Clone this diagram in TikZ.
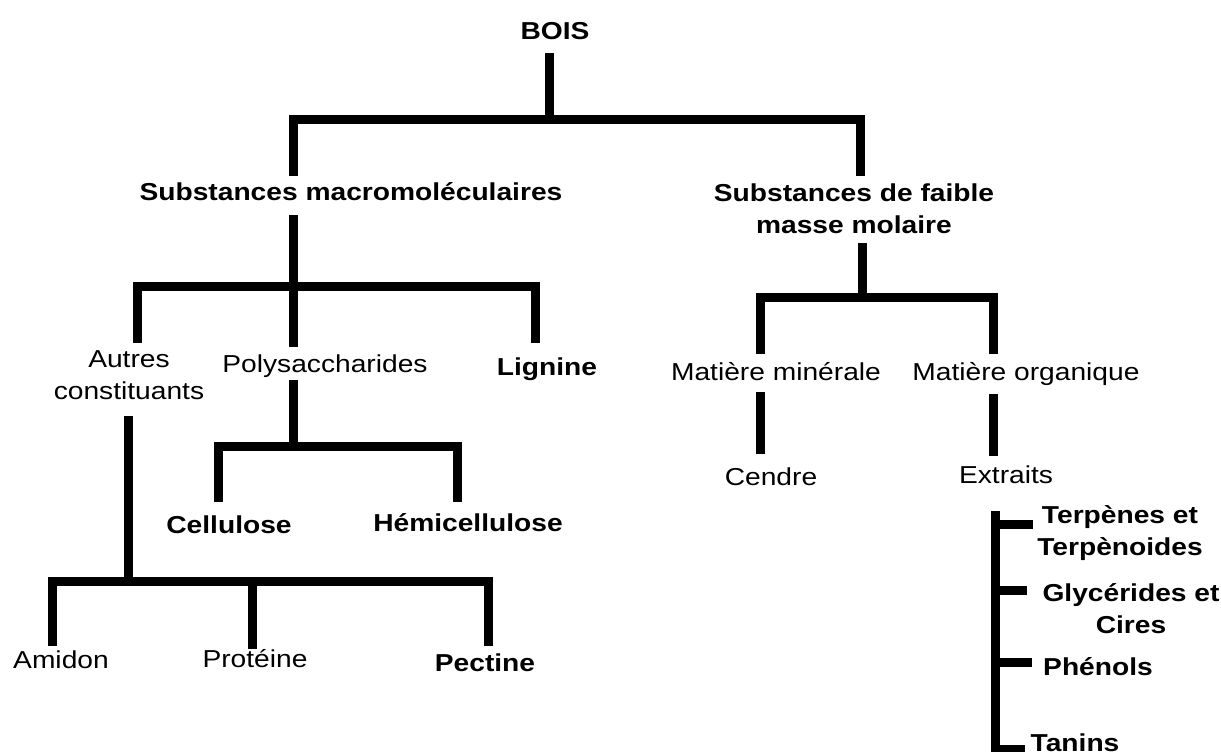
\documentclass[tikz,border=0pt]{standalone}
\usepackage{fontspec}
\setmainfont{Liberation Sans}[FakeStretch=1.15]
\newcommand\lblfont{\fontsize{24.5}{32}\selectfont}

\begin{document}
\begin{tikzpicture}[
  x=1pt, y=-1pt,
  lbl/.style={inner sep=0pt, font=\lblfont},
  one/.style={lbl, anchor=base, text height=18pt, text depth=5pt},
  many/.style={lbl, anchor=north, align=center},
  bf/.style={font=\lblfont\bfseries},
  br/.style={line width=9pt, line join=miter}
]
\useasboundingbox (0,0) rectangle (1221,752);

\node[one, bf] (bois) at (555,40) {BOIS};
\node[one, bf] (smac) at (351,200) {Substances macromoléculaires};
\node[many, bf] (sfai) at (854,184) {Substances de faible\\masse molaire};
\node[many] (autr) at (129,350) {Autres\\constituants};
\node[one] (poly) at (325,372) {Polysaccharides};
\node[one, bf] (lign) at (547,375) {Lignine};
\node[one] (mmin) at (776,380) {Matière minérale};
\node[one] (morg) at (1026,380) {Matière organique};
\node[one] (cend) at (771,485) {Cendre};
\node[one] (extr) at (1006,483) {Extraits};
\node[one, bf] (cell) at (229,533) {Cellulose};
\node[one, bf] (hemi) at (468,531) {Hémicellulose};
\node[one] (amid) at (61,668) {Amidon};
\node[one] (prot) at (255,667) {Protéine};
\node[one, bf] (pect) at (485,671) {Pectine};
\node[many, bf] (terp) at (1120,505) {Terpènes et\\Terpènoides};
\node[many, bf] (glyc) at (1131,583) {Glycérides et\\Cires};
\node[one, bf] (phen) at (1098,675) {Phénols};
\node[one, bf] (tani) at (1075,751) {Tanins};

% bus junctions
\coordinate (j0) at (549,119);
\coordinate (j0l) at (293,119);
\coordinate (j0r) at (860,119);
\coordinate (j1) at (293,286);
\coordinate (j1l) at (137,286);
\coordinate (j1r) at (535,286);
\coordinate (j2) at (862,297);
\coordinate (j2l) at (760,297);
\coordinate (j2r) at (993,297);
\coordinate (j3) at (293,446);
\coordinate (j3l) at (218,446);
\coordinate (j3r) at (457,446);
\coordinate (j4) at (128,581);
\coordinate (j4m) at (252,581);
\coordinate (j4l) at (52,581);
\coordinate (j4r) at (488,581);
\coordinate (ex) at (995,760);
\coordinate (e1) at (995,524);
\coordinate (e2) at (995,590);
\coordinate (e3) at (995,662);
\coordinate (e4) at (995,749);

% bois
\draw[br, shorten <=8pt] (j0 |- bois.south) -- (j0);
\draw[br, shorten <=6pt, shorten >=8pt] (j0l |- smac.north) -- (j0l) -- (j0r) -- (j0r |- sfai.north);

% substances macromoleculaires
\draw[br, shorten <=10pt] (j1 |- smac.south) -- (j1);
\draw[br, shorten <=7pt, shorten >=14pt] (j1l |- autr.north) -- (j1l) -- (j1r) -- (j1r |- lign.north);
\draw[br, shorten >=7pt] (j1) -- (j1 |- poly.north);

% faible masse molaire
\draw[br, shorten <=9pt] (j2 |- sfai.south) -- (j2);
\draw[br, shorten <=8pt, shorten >=8pt] (j2l |- mmin.north) -- (j2l) -- (j2r) -- (j2r |- morg.north);
\draw[br, shorten <=7pt, shorten >=13pt] (j2l |- mmin.south) -- (j2l |- cend.north);
\draw[br, shorten <=9pt, shorten >=9pt] (j2r |- morg.south) -- (j2r |- extr.north);

% polysaccharides
\draw[br, shorten <=3pt] (j3 |- poly.south) -- (j3);
\draw[br, shorten <=13pt, shorten >=11pt] (j3l |- cell.north) -- (j3l) -- (j3r) -- (j3r |- hemi.north);

% autres constituants
\draw[br, shorten <=17pt] (j4 |- autr.south) -- (j4);
\draw[br, shorten <=4pt, shorten >=7pt] (j4l |- amid.north) -- (j4l) -- (j4r) -- (j4r |- pect.north);
\draw[br] (j4m) -- (j4m |- prot.north);

% extraits
\draw[br, shorten <=23pt] (ex |- extr.south) -- (ex);
\draw[br, shorten >=4pt] (e1) -- (e1 -| terp.west);
\draw[br, shorten >=15pt] (e2) -- (e2 -| glyc.west);
\draw[br, shorten >=11pt] (e3) -- (e3 -| phen.west);
\draw[br, shorten >=5pt] (e4) -- (e4 -| tani.west);
\end{tikzpicture}
\end{document}
